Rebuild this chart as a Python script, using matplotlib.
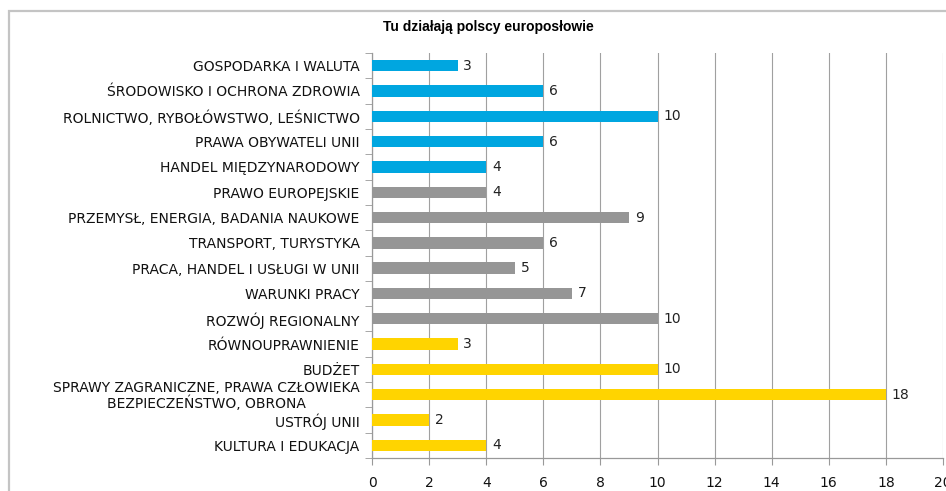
import numpy as np
import matplotlib.pyplot as plt
from matplotlib.patches import Rectangle

# dane z wykresu
kategorie = ['GOSPODARKA I WALUTA', 'ŚRODOWISKO I OCHRONA ZDROWIA',
             'ROLNICTWO, RYBOŁÓWSTWO, LEŚNICTWO', 'PRAWA OBYWATELI UNII',
             'HANDEL MIĘDZYNARODOWY', 'PRAWO EUROPEJSKIE',
             'PRZEMYSŁ, ENERGIA, BADANIA NAUKOWE', 'TRANSPORT, TURYSTYKA',
             'PRACA, HANDEL I USŁUGI W UNII', 'WARUNKI PRACY',
             'ROZWÓJ REGIONALNY', 'RÓWNOUPRAWNIENIE', 'BUDŻET',
             'SPRAWY ZAGRANICZNE, PRAWA CZŁOWIEKA\nBEZPIECZEŃSTWO, OBRONA',
             'USTRÓJ UNII', 'KULTURA I EDUKACJA']
wartosci = [3, 6, 10, 6, 4, 4, 9, 6, 5, 7, 10, 3, 10, 18, 2, 4]
grupy = ['b', 'b', 'b', 'b', 'b', 'g', 'g', 'g', 'g', 'g', 'g', 'y', 'y', 'y', 'y', 'y']
kolory = {'b': '#00A6E0', 'g': '#969696', 'y': '#FFD400'}
tytul = 'Tu działają polscy europosłowie'

plt.rcParams['font.family'] = ['DejaVu Sans']

fig = plt.figure(figsize=(9.46, 4.91), dpi=100)
ax = fig.add_axes([372/946, 1-458/491, (943-372)/946, (458-53)/491])

y = np.arange(len(kategorie))
ax.barh(y, wartosci, height=0.45, color=[kolory[g] for g in grupy], zorder=3)

for yi, v in zip(y, wartosci):
    ax.text(v + 0.2, yi, str(v), va='center', ha='left', fontsize=10, color='#222222')

ax.set_xlim(0, 20)
ax.set_ylim(len(kategorie) - 0.5, -0.5)
ax.set_xticks(np.arange(0, 21, 2))
ax.set_yticks(y)
ax.set_yticklabels(kategorie, fontsize=10, color='#111111', multialignment='center',
                   linespacing=1.0)
ax.set_yticks(np.arange(-0.5, len(kategorie), 1), minor=True)
ax.tick_params(axis='y', which='major', length=0, pad=9)
ax.tick_params(axis='y', which='minor', length=5, color='#999999')
ax.tick_params(axis='x', length=5, color='#999999', labelsize=10, pad=8, labelcolor='#111111')

ax.grid(axis='x', color='#a0a0a0', linewidth=0.8, zorder=0)
for s in ['top', 'right']:
    ax.spines[s].set_visible(False)
for s in ['left', 'bottom']:
    ax.spines[s].set_color('#999999')
    ax.spines[s].set_linewidth(0.9)

fig.text(488/946, 1-27/491, tytul, ha='center', va='center', fontsize=10,
         fontweight='bold', family=['Liberation Sans', 'DejaVu Sans'])

# ramka wykresu
fig.patches.append(Rectangle((9/946, -0.1), 1.0, 1-11/491 + 0.1, transform=fig.transFigure,
                             fill=False, edgecolor='#c4c4c4', linewidth=1.6))

fig.savefig('out.png', dpi=100)
